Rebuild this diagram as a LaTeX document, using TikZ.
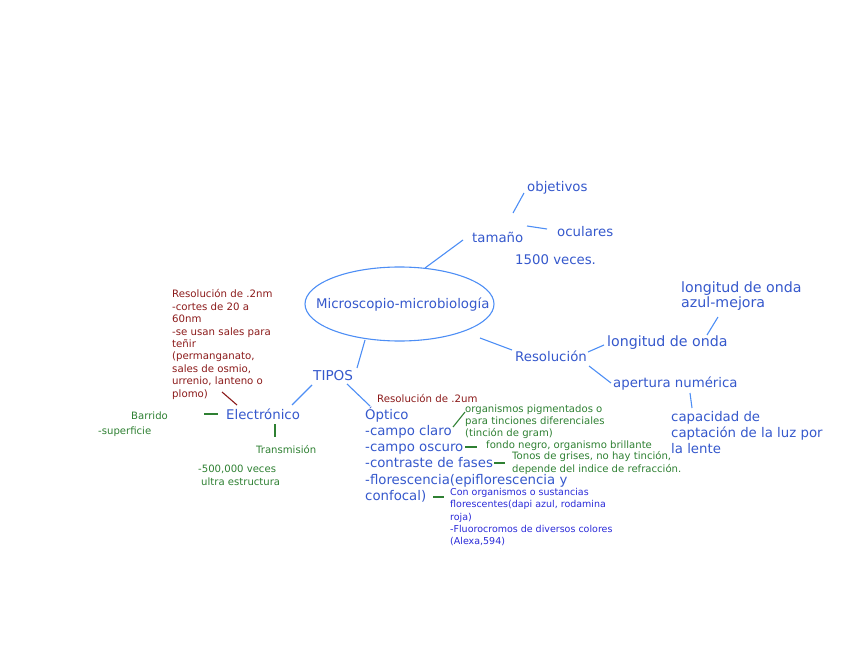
\documentclass[tikz,border=0pt]{standalone}
\usepackage{fontspec}
\usetikzlibrary{shapes.geometric}
\setmainfont{DejaVu Sans}
\definecolor{mblue}{HTML}{3558CC}
\definecolor{lblue}{HTML}{4D8EF5}
\definecolor{dred}{HTML}{8B1A1A}
\definecolor{dgreen}{HTML}{2E8032}
\definecolor{dblue}{HTML}{2A2AD8}
\tikzset{
  big/.style={text=mblue, font=\fontsize{13.3}{16.3}\selectfont, inner sep=0pt, anchor=west, align=left},
  bigl/.style={text=mblue, font=\fontsize{14.2}{15.5}\selectfont, inner sep=0pt, anchor=west, align=left},
  bigb/.style={text=mblue, font=\fontsize{13.3}{16}\selectfont, inner sep=0pt, anchor=west, align=left},
  redt/.style={text=dred, font=\fontsize{10.2}{12.4}\selectfont, inner sep=0pt, anchor=north west, align=left},
  grt/.style={text=dgreen, font=\fontsize{10.1}{12.3}\selectfont, inner sep=0pt, anchor=west, align=left},
  blt/.style={text=dblue, font=\fontsize{9.5}{12.3}\selectfont, inner sep=0pt, anchor=north west, align=left},
  bl/.style={draw=lblue, line width=1.1pt},
  rl/.style={draw=dred, line width=1.1pt},
  gl/.style={draw=dgreen, line width=1.1pt}
}
\begin{document}
\begin{tikzpicture}[x=1pt,y=-1pt]
\useasboundingbox (0,0) rectangle (848,655);
% central ellipse
\node[draw=lblue, line width=1.1pt, ellipse, minimum width=189pt, minimum height=74pt, inner sep=0pt] (ell) at (399.5,304) {};
\node[big] (mm) at (316,305) {Microscopio-microbiología};
% tamaño branch
\node[big] (tam) at (472,237) {tamaño};
\node[big] (obj) at (527,188) {objetivos};
\node[big] (ocu) at (557,232) {oculares};
\node[big] (ves) at (515,260) {1500 veces.};
\coordinate (a1) at (425,268); \coordinate (a2) at (463,240);
\coordinate (b1) at (513,213); \coordinate (b2) at (524,193);
\coordinate (c1) at (527,226); \coordinate (c2) at (547,229);
\draw[bl] (a1) -- (a2);
\draw[bl] (b1) -- (b2);
\draw[bl] (c1) -- (c2);
% Resolución branch
\node[big] (res) at (515,356) {Resolución};
\node[bigl] (lon) at (607,343) {longitud de onda};
\node[bigl] (laz) at (681,296) {longitud de onda\\azul-mejora};
\node[big] (ape) at (613,384) {apertura numérica};
\node[bigb, anchor=north west] (cap) at (671,411.5) {capacidad de\\captación de la luz por\\la lente};
\coordinate (d1) at (480,338); \coordinate (d2) at (512,350);
\coordinate (e1) at (588,352); \coordinate (e2) at (604,345);
\coordinate (f1) at (707,335); \coordinate (f2) at (718,317);
\coordinate (g1) at (589,366); \coordinate (g2) at (611,383);
\coordinate (h1) at (690,393); \coordinate (h2) at (692,408);
\draw[bl] (d1) -- (d2);
\draw[bl] (e1) -- (e2);
\draw[bl] (f1) -- (f2);
\draw[bl] (g1) -- (g2);
\draw[bl] (h1) -- (h2);
% TIPOS branch
\node[big, font=\fontsize{13.6}{16}\selectfont] (tip) at (313,376) {TIPOS};
\node[big] (ele) at (226,414) {Electrónico};
\node[big, anchor=north west] (opt) at (365,406.5) {Óptico\\-campo claro\\-campo oscuro\\-contraste de fases\\-florescencia(epiflorescencia y\\confocal)};
\coordinate (i1) at (365,340); \coordinate (i2) at (357,368);
\coordinate (j1) at (312,385); \coordinate (j2) at (292,405);
\coordinate (k1) at (347,384); \coordinate (k2) at (370,406);
\draw[bl] (i1) -- (i2);
\draw[bl] (j1) -- (j2);
\draw[bl] (k1) -- (k2);
% red notes
\node[redt] (rn) at (172,289.5) {Resolución de .2nm\\-cortes de 20 a\\60nm\\-se usan sales para\\teñir\\(permanganato,\\sales de osmio,\\urrenio, lanteno o\\plomo)};
\node[redt, anchor=west] (ru) at (377,398) {Resolución de .2um};
\coordinate (l1) at (222,392); \coordinate (l2) at (237,405);
\draw[rl] (l1) -- (l2);
% Electrónico sub
\node[grt] (bar) at (131,416) {Barrido};
\node[grt] (sup) at (98,432) {-superficie};
\node[grt] (tra) at (256,450) {Transmisión};
\node[grt] (qui) at (198,469) {-500,000 veces};
\node[grt] (ult) at (201,482) {ultra estructura};
\coordinate (m1) at (204,414); \coordinate (m2) at (218,414);
\coordinate (n1) at (275,424); \coordinate (n2) at (275,437);
\draw[gl] (m1) -- (m2);
\draw[gl] (n1) -- (n2);
% Óptico sub
\node[grt, anchor=north west] (pig) at (465,404.5) {organismos pigmentados o\\para tinciones diferenciales\\(tinción de gram)};
\node[grt] (fon) at (486,446) {fondo negro, organismo brillante};
\node[grt, anchor=north west] (ton) at (512,451.5) {Tonos de grises, no hay tinción,\\depende del indice de refracción.};
\node[blt] (con) at (450,488) {Con organismos o sustancias\\florescentes(dapi azul, rodamina\\roja)\\-Fluorocromos de diversos colores\\(Alexa,594)};
\coordinate (o1) at (453,427); \coordinate (o2) at (465,412);
\coordinate (p1) at (465,447); \coordinate (p2) at (477,447);
\coordinate (q1) at (494,463); \coordinate (q2) at (505,463);
\coordinate (r1) at (433,497); \coordinate (r2) at (444,497);
\draw[gl] (o1) -- (o2);
\draw[gl] (p1) -- (p2);
\draw[gl] (q1) -- (q2);
\draw[gl] (r1) -- (r2);
\end{tikzpicture}
\end{document}
